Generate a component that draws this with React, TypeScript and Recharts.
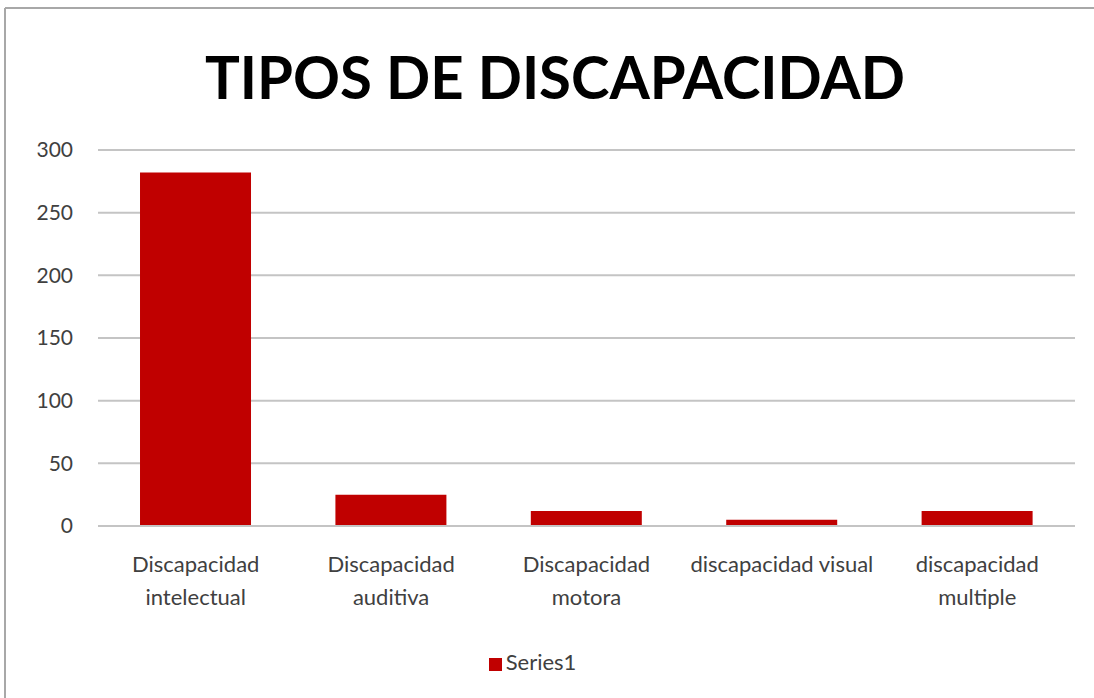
import { BarChart, Bar, XAxis, YAxis, CartesianGrid, Legend } from "recharts";

const categories = [
  "Discapacidad intelectual",
  "Discapacidad auditiva",
  "Discapacidad motora",
  "discapacidad visual",
  "discapacidad multiple",
];
// tick labels as they wrap in the picture
const tickLines: string[][] = [
  ["Discapacidad", "intelectual"],
  ["Discapacidad", "auditiva"],
  ["Discapacidad", "motora"],
  ["discapacidad visual"],
  ["discapacidad", "multiple"],
];
const series1 = [282, 25, 12, 5, 12];
const yTicks = [0, 50, 100, 150, 200, 250, 300];

const data = categories.map((name, i) => ({ name, Series1: series1[i] }));

const FONT = "Lato, 'Open Sans', sans-serif";
const TEXT_COLOR = "#404040";
const GRID = "#c4c4c4";

function CategoryTick(props: any) {
  const { x, y, payload } = props;
  const idx = categories.indexOf(payload.value);
  const lines = idx >= 0 ? tickLines[idx] : [payload.value];
  return (
    <text
      x={x}
      y={y}
      textAnchor="middle"
      fill={TEXT_COLOR}
      fontSize={22}
      fontFamily={FONT}
    >
      {lines.map((ln, i) => (
        <tspan key={i} x={x} dy={i === 0 ? 12 : 33}>
          {ln}
        </tspan>
      ))}
    </text>
  );
}

export default function App() {
  return (
    <div
      style={{
        position: "absolute",
        left: 0,
        top: 0,
        width: 1094,
        height: 698,
        background: "#fff",
        overflow: "hidden",
      }}
    >
      <svg
        width={1094}
        height={698}
        style={{ position: "absolute", left: 0, top: 0 }}
      >
        <line x1={5} y1={8} x2={1094} y2={8} stroke="#a8a8a8" strokeWidth={2} />
        <line x1={5} y1={8} x2={5} y2={698} stroke="#a8a8a8" strokeWidth={2} />
        <text
          x={555}
          y={99}
          textAnchor="middle"
          textLength={700}
          lengthAdjust="spacingAndGlyphs"
          fontFamily={FONT}
          fontWeight={700}
          fontSize={60}
          fill="#000"
        >
          TIPOS DE DISCAPACIDAD
        </text>
      </svg>
      <div style={{ position: "absolute", left: 0, top: 0 }}>
        <BarChart
          width={1094}
          height={698}
          data={data}
          margin={{ top: 150, right: 19, left: 0, bottom: 23 }}
          barCategoryGap="21.5%"
        >
          <CartesianGrid vertical={false} stroke={GRID} strokeWidth={2} />
          <XAxis
            dataKey="name"
            height={122}
            axisLine={{ stroke: GRID, strokeWidth: 2 }}
            tickLine={false}
            tickMargin={28}
            interval={0}
            tick={<CategoryTick />}
          />
          <YAxis
            width={98}
            domain={[0, 300]}
            ticks={yTicks}
            axisLine={false}
            tickLine={false}
            tickMargin={19}
            tick={{ fill: TEXT_COLOR, fontSize: 21, fontFamily: FONT }}
          />
          <Legend
            verticalAlign="bottom"
            align="center"
            iconType="square"
            iconSize={13}
            wrapperStyle={{ fontFamily: FONT, fontSize: 22 }}
            formatter={(value: string) => (
              <span style={{ color: TEXT_COLOR }}>{value}</span>
            )}
          />
          <Bar dataKey="Series1" fill="#C00000" isAnimationActive={false} />
        </BarChart>
      </div>
    </div>
  );
}
